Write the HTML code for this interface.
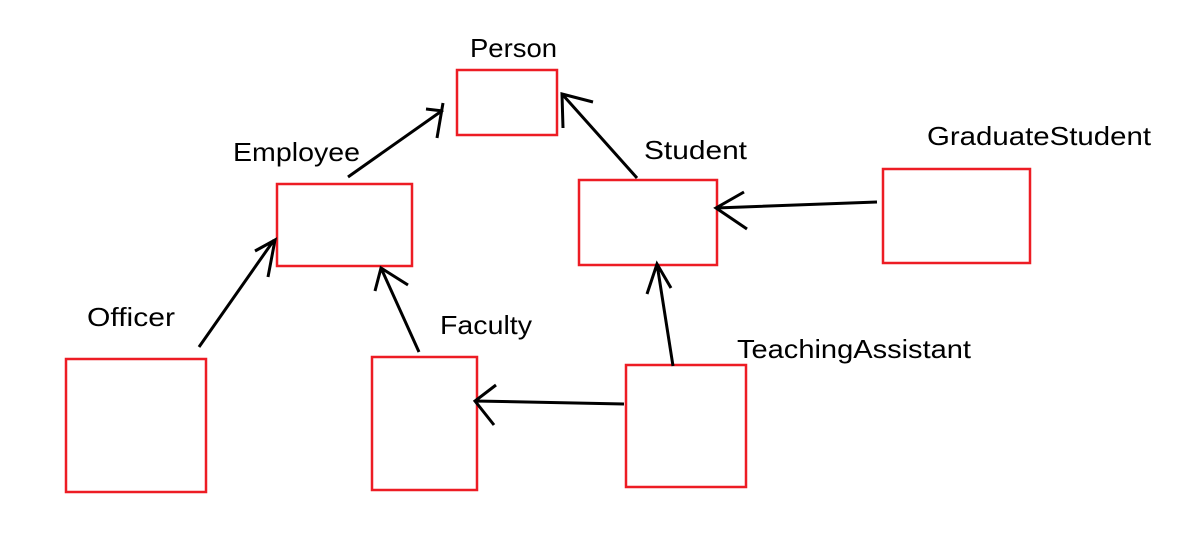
<!DOCTYPE html>
<html><head><meta charset="utf-8"><style>
html,body{margin:0;padding:0;background:#fff;}
svg{display:block;}
text{font-family:"Liberation Sans",sans-serif;font-size:26px;fill:#000;}
</style></head><body>
<svg width="1196" height="560" viewBox="0 0 1196 560" xmlns="http://www.w3.org/2000/svg">
<g fill="none" stroke="#ed1c24" stroke-width="2.5">
<rect x="457" y="70" width="100" height="65"/>
<rect x="277" y="184" width="135" height="82"/>
<rect x="579" y="180" width="138" height="85"/>
<rect x="883" y="169" width="147" height="94"/>
<rect x="66" y="359" width="140" height="133"/>
<rect x="372" y="357" width="105" height="133"/>
<rect x="626" y="365" width="120" height="122"/>
</g>
<g fill="none" stroke="#000" stroke-width="3" stroke-linecap="butt">
<path d="M348 177 L443 110 M426 109 L443 111 M443 103 L437 138"/>
<path d="M637 178 L562 94 M593 102 L562 94 L563 128"/>
<path d="M877 202 L716 208 M744 192 L716 208 L747 229"/>
<path d="M199 347 L274 240 M255 251 L275 240 L268 277"/>
<path d="M419 352 L381 268 M375 291 L381 268 L408 285"/>
<path d="M673 366 L657 264 M647 294 L657 264 L671 288"/>
<path d="M624 404 L475 401 M496 385 L475 401 L494 425"/>
</g>
<g lengthAdjust="spacingAndGlyphs">
<text x="470" y="57" textLength="87" lengthAdjust="spacingAndGlyphs">Person</text>
<text x="233" y="161" textLength="127" lengthAdjust="spacingAndGlyphs">Employee</text>
<text x="644" y="159" textLength="103" lengthAdjust="spacingAndGlyphs">Student</text>
<text x="927" y="145" textLength="224" lengthAdjust="spacingAndGlyphs">GraduateStudent</text>
<text x="87" y="326" textLength="88" lengthAdjust="spacingAndGlyphs">Officer</text>
<text x="440" y="334" textLength="92" lengthAdjust="spacingAndGlyphs">Faculty</text>
<text x="737" y="358" textLength="234" lengthAdjust="spacingAndGlyphs">TeachingAssistant</text>
</g>
</svg>
</body></html>
